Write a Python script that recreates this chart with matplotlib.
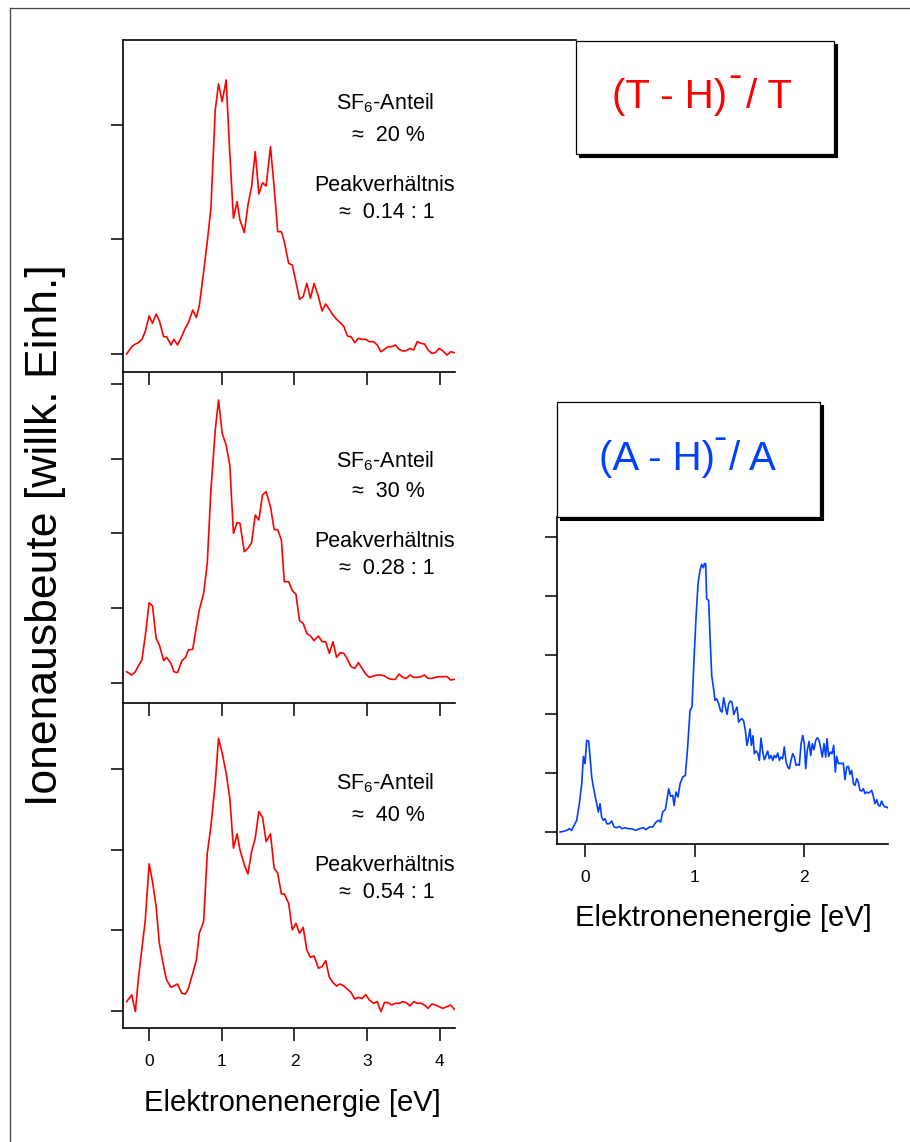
import matplotlib
matplotlib.use('Agg')
import matplotlib.pyplot as plt
from matplotlib.patches import Rectangle
from matplotlib.lines import Line2D

plt.rcParams['font.family'] = ['Liberation Sans', 'DejaVu Sans']
plt.rcParams['mathtext.fontset'] = 'custom'
plt.rcParams['mathtext.rm'] = 'Liberation Sans'
plt.rcParams['mathtext.it'] = 'Liberation Sans:italic'

# energy grid of the three red spectra (eV)
energie_links = [
    -0.31, -0.24, -0.19, -0.15, -0.10, -0.055, 0.0, 0.046, 0.096, 0.14,
    0.20, 0.24, 0.30, 0.34, 0.39, 0.45, 0.50, 0.54, 0.60, 0.65,
    0.69, 0.75, 0.80, 0.85, 0.91, 0.955, 1.005, 1.06, 1.11, 1.16,
    1.21, 1.25, 1.31, 1.36, 1.41, 1.46, 1.51, 1.56, 1.61, 1.67,
    1.72, 1.77, 1.82, 1.86, 1.92, 1.97, 2.02, 2.07, 2.12, 2.17,
    2.22, 2.27, 2.33, 2.38, 2.43, 2.48, 2.53, 2.58, 2.63, 2.68,
    2.73, 2.78, 2.83, 2.88, 2.93, 2.98, 3.03, 3.09, 3.14, 3.19,
    3.24, 3.29, 3.34, 3.39, 3.44, 3.49, 3.54, 3.59, 3.64, 3.69,
    3.74, 3.79, 3.84, 3.89, 3.94, 3.99, 4.04, 4.10, 4.15, 4.20]

# (T-H)- / T ion yield for SF6 share 20 %, 30 %, 40 %
sf6_20 = [
    0.00, 0.064, 0.087, 0.099, 0.128, 0.195, 0.332, 0.268, 0.349, 0.291,
    0.151, 0.151, 0.079, 0.128, 0.079, 0.157, 0.230, 0.274, 0.384, 0.320,
    0.419, 0.719, 0.981, 1.272, 2.131, 2.358, 2.204, 2.393, 1.753, 1.185,
    1.330, 1.170, 1.060, 1.301, 1.461, 1.767, 1.397, 1.496, 1.467, 1.811,
    1.461, 1.068, 1.068, 0.981, 0.792, 0.777, 0.632, 0.477, 0.501, 0.617,
    0.486, 0.617, 0.501, 0.376, 0.437, 0.390, 0.341, 0.303, 0.274, 0.239,
    0.157, 0.151, 0.099, 0.137, 0.128, 0.128, 0.108, 0.108, 0.079, 0.020,
    0.041, 0.064, 0.064, 0.079, 0.041, 0.026, 0.029, 0.049, 0.035, 0.108,
    0.093, 0.087, 0.035, 0.006, 0.012, 0.049, 0.029, -0.009, 0.020, 0.012]

sf6_30 = [
    0.151, 0.107, 0.151, 0.227, 0.307, 0.619, 1.073, 1.029, 0.597, 0.508,
    0.298, 0.343, 0.263, 0.151, 0.138, 0.298, 0.343, 0.441, 0.450, 0.753,
    0.976, 1.198, 1.599, 2.579, 3.381, 3.782, 3.336, 3.180, 2.913, 2.000,
    2.143, 2.134, 1.755, 1.800, 1.875, 2.245, 2.178, 2.512, 2.557, 2.356,
    2.053, 2.045, 1.911, 1.354, 1.354, 1.234, 1.189, 0.833, 0.797, 0.664,
    0.628, 0.566, 0.628, 0.552, 0.552, 0.396, 0.552, 0.343, 0.405, 0.396,
    0.316, 0.218, 0.196, 0.272, 0.196, 0.120, 0.076, 0.094, 0.107, 0.107,
    0.094, 0.062, 0.049, 0.049, 0.120, 0.076, 0.062, 0.107, 0.076, 0.076,
    0.085, 0.107, 0.062, 0.062, 0.076, 0.085, 0.085, 0.085, 0.040, 0.049]

sf6_40 = [
    0.116, 0.199, -0.008, 0.385, 0.778, 1.109, 1.825, 1.605, 1.295, 0.840,
    0.550, 0.385, 0.294, 0.310, 0.335, 0.219, 0.211, 0.281, 0.468, 0.633,
    0.964, 1.109, 1.957, 2.288, 2.826, 3.384, 3.198, 2.950, 2.640, 2.019,
    2.197, 1.998, 1.812, 1.700, 1.978, 2.143, 2.474, 2.404, 2.102, 2.197,
    1.771, 1.709, 1.452, 1.452, 1.336, 1.005, 1.088, 0.964, 1.038, 0.757,
    0.666, 0.683, 0.530, 0.550, 0.625, 0.418, 0.352, 0.310, 0.335, 0.310,
    0.269, 0.228, 0.149, 0.170, 0.153, 0.203, 0.137, 0.095, 0.116, -0.008,
    0.108, 0.103, 0.074, 0.095, 0.095, 0.116, 0.103, 0.062, 0.116, 0.095,
    0.095, 0.074, 0.033, 0.087, 0.074, 0.054, 0.033, 0.054, 0.074, 0.021]

# (A-H)- / A spectrum
energie_rechts = [
    -0.228, -0.198, -0.167, -0.143, -0.122, -0.100, -0.076, -0.052, -0.030, -0.015,
    0.000, 0.015, 0.033, 0.046, 0.061, 0.076, 0.091, 0.107, 0.122, 0.137,
    0.152, 0.167, 0.183, 0.198, 0.222, 0.244, 0.265, 0.289, 0.314, 0.338,
    0.365, 0.396, 0.426, 0.463, 0.496, 0.533, 0.557, 0.588, 0.618, 0.648,
    0.673, 0.691, 0.709, 0.734, 0.764, 0.782, 0.801, 0.813, 0.831, 0.849,
    0.868, 0.892, 0.916, 0.935, 0.959, 0.977, 0.995, 1.014, 1.032, 1.050,
    1.065, 1.081, 1.090, 1.102, 1.111, 1.129, 1.142, 1.157, 1.172, 1.187,
    1.202, 1.221, 1.236, 1.251, 1.266, 1.282, 1.297, 1.312, 1.327, 1.342,
    1.358, 1.373, 1.388, 1.403, 1.419, 1.434, 1.449, 1.464, 1.479, 1.495,
    1.507, 1.519, 1.534, 1.546, 1.562, 1.577, 1.592, 1.607, 1.623, 1.638,
    1.653, 1.668, 1.683, 1.699, 1.714, 1.729, 1.744, 1.760, 1.775, 1.790,
    1.805, 1.820, 1.836, 1.851, 1.866, 1.881, 1.897, 1.912, 1.927, 1.942,
    1.957, 1.973, 1.988, 2.003, 2.015, 2.030, 2.046, 2.061, 2.076, 2.091,
    2.107, 2.122, 2.137, 2.152, 2.167, 2.183, 2.198, 2.210, 2.225, 2.240,
    2.256, 2.271, 2.286, 2.298, 2.314, 2.329, 2.344, 2.359, 2.374, 2.390,
    2.405, 2.420, 2.435, 2.451, 2.466, 2.481, 2.496, 2.511, 2.527, 2.542,
    2.557, 2.572, 2.588, 2.603, 2.618, 2.633, 2.648, 2.664, 2.679, 2.694,
    2.709, 2.725, 2.740, 2.755, 2.764]

ausbeute_rechts = [
    0.000, 0.011, 0.028, 0.056, 0.028, 0.113, 0.198, 0.480, 0.819, 1.282,
    1.158, 1.554, 1.542, 1.271, 0.932, 0.763, 0.621, 0.480, 0.339, 0.480,
    0.254, 0.198, 0.226, 0.141, 0.141, 0.186, 0.085, 0.073, 0.096, 0.056,
    0.073, 0.056, 0.056, 0.028, 0.056, 0.073, 0.040, 0.085, 0.085, 0.169,
    0.198, 0.169, 0.339, 0.384, 0.734, 0.605, 0.621, 0.452, 0.678, 0.593,
    0.819, 0.932, 0.960, 1.384, 2.062, 2.119, 2.910, 3.644, 4.209, 4.435,
    4.537, 4.480, 4.548, 4.548, 3.955, 3.927, 3.305, 2.655, 2.458, 2.232,
    2.260, 2.175, 2.062, 2.034, 2.277, 2.119, 1.994, 2.175, 2.220, 2.203,
    1.994, 2.062, 2.119, 1.864, 1.904, 1.921, 1.881, 1.723, 1.469, 1.610,
    1.746, 1.469, 1.633, 1.328, 1.373, 1.339, 1.215, 1.593, 1.356, 1.226,
    1.299, 1.373, 1.243, 1.299, 1.215, 1.299, 1.260, 1.339, 1.215, 1.271,
    1.243, 1.441, 1.186, 1.102, 1.073, 1.215, 1.328, 1.271, 1.130, 1.147,
    1.130, 1.497, 1.638, 1.497, 1.073, 1.384, 1.537, 1.299, 1.497, 1.395,
    1.554, 1.599, 1.554, 1.429, 1.271, 1.497, 1.271, 1.582, 1.282, 1.356,
    1.328, 1.469, 1.017, 1.282, 1.158, 1.169, 1.158, 1.169, 0.887, 1.102,
    1.113, 0.977, 1.045, 0.819, 0.791, 0.904, 0.847, 0.706, 0.695, 0.734,
    0.650, 0.678, 0.661, 0.678, 0.706, 0.605, 0.480, 0.548, 0.452, 0.441,
    0.525, 0.452, 0.424, 0.424, 0.412]

anteile = ['20', '30', '40']
verhaeltnisse = ['0.14', '0.28', '0.54']

ROT = '#ff0000'
BLAU = '#0040ff'

W, H = 910, 1142
fig = plt.figure(figsize=(W / 100, H / 100), dpi=100)


# pixel helpers (top-left origin like the picture)
def fx(x):
    return x / W


def fy(y):
    return 1 - y / H


def achse(rect_px):
    x0, y0, x1, y1 = rect_px
    ax = fig.add_axes([fx(x0), fy(y1), (x1 - x0) / W, (y1 - y0) / H])
    ax.patch.set_visible(False)
    for s in ['top', 'right']:
        ax.spines[s].set_visible(False)
    for s in ['left', 'bottom']:
        ax.spines[s].set_linewidth(1.2)
    ax.tick_params(direction='out', length=9, width=1.1, labelsize=12.5, pad=9.5)
    ax.set_yticklabels([])
    return ax


# left stack
panels = [(40, 372, sf6_20, (-0.157, 2.742), [0, 1, 2]),
          (372, 703, sf6_30, (-0.267, 4.156), [0, 1, 2, 3, 4]),
          (703, 1028, sf6_40, (-0.211, 3.82), [0, 1, 2, 3])]
for i, (top, bot, werte, ylim, yt) in enumerate(panels):
    ax = achse((123, top, 455, bot))
    ax.plot(energie_links, werte, color=ROT, lw=1.2)
    ax.set_xlim(-0.36, 4.21)
    ax.set_ylim(*ylim)
    ax.set_yticks(yt)
    ax.set_yticklabels([])
    ax.set_xticks([0, 1, 2, 3, 4])
    if i < 2:
        ax.set_xticklabels([])

# annotations (baselines in px)
text_y = [(109, 141, 191, 218), (467, 497, 547, 574), (789, 821, 871, 898)]
for (y1, y2, y3, y4), a, v in zip(text_y, anteile, verhaeltnisse):
    fig.text(fx(385), fy(y1), r'SF$_\mathrm{6}$-Anteil', ha='center', va='baseline', fontsize=15.5)
    fig.text(fx(388), fy(y2), '\u2248  ' + a + ' %', ha='center', va='baseline', fontsize=15.5)
    fig.text(fx(385), fy(y3), 'Peakverhältnis', ha='center', va='baseline', fontsize=15.5)
    fig.text(fx(387), fy(y4), '\u2248  ' + v + ' : 1', ha='center', va='baseline', fontsize=15.5)

# right panel
axr = achse((557, 517, 888, 844))
axr.plot(energie_rechts, ausbeute_rechts, color=BLAU, lw=1.2)
axr.set_xlim(-0.256, 2.767)
axr.set_ylim(-0.203, 5.34)
axr.set_xticks([0, 1, 2])
axr.set_yticks([0, 1, 2, 3, 4, 5])
axr.set_yticklabels([])

# axis titles
fig.text(fx(292), fy(1103), 'Elektronenenergie [eV]', ha='center', va='center', fontsize=21)
fig.text(fx(723), fy(918), 'Elektronenenergie [eV]', ha='center', va='center', fontsize=21)
fig.text(fx(46), fy(535), 'Ionenausbeute [willk. Einh.]', ha='center', va='center',
         rotation=90, fontsize=32)

# frame lines
fig.add_artist(Line2D([fx(10), fx(910)], [fy(7.5), fy(7.5)], color='#444444', lw=0.9))
fig.add_artist(Line2D([fx(10), fx(10)], [fy(7.5), fy(1142)], color='#444444', lw=0.9))
fig.add_artist(Line2D([fx(123), fx(576)], [fy(40), fy(40)], color='black', lw=1.2))


def kasten(x0, y0, x1, y1):
    fig.add_artist(Rectangle((fx(x0 + 2.5), fy(y1 + 2.5)), (x1 - x0) / W, (y1 - y0) / H,
                             transform=fig.transFigure, facecolor='black', edgecolor='black',
                             lw=0.8, zorder=5))
    fig.add_artist(Rectangle((fx(x0), fy(y1)), (x1 - x0) / W, (y1 - y0) / H,
                             transform=fig.transFigure, facecolor='white', edgecolor='black',
                             lw=0.9, zorder=6))


kasten(576, 41, 834, 154)
fig.text(fx(727), fy(108), '(T - H)', ha='right', va='baseline', fontsize=29, color=ROT, zorder=7)
fig.text(fx(735), fy(87), '-', ha='center', va='baseline', fontsize=29, color=ROT, zorder=7)
fig.text(fx(746), fy(108), '/ T', ha='left', va='baseline', fontsize=29, color=ROT, zorder=7)

kasten(557, 402, 820, 517)
fig.text(fx(715), fy(470), '(A - H)', ha='right', va='baseline', fontsize=29, color=BLAU, zorder=7)
fig.text(fx(720), fy(449), '-', ha='center', va='baseline', fontsize=29, color=BLAU, zorder=7)
fig.text(fx(729), fy(470), '/ A', ha='left', va='baseline', fontsize=29, color=BLAU, zorder=7)

fig.savefig('out.png', dpi=100)
